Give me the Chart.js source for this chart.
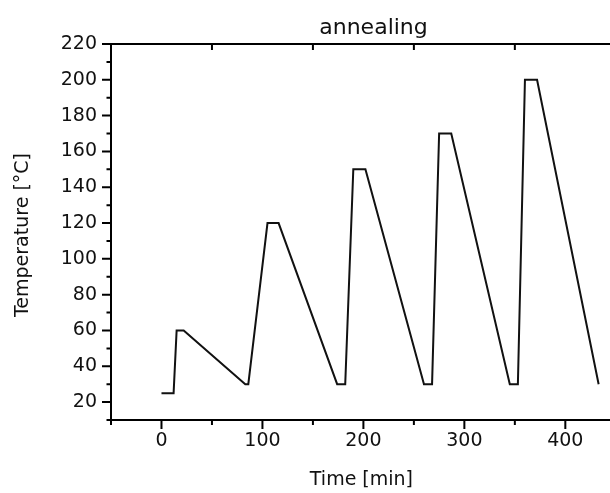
<!DOCTYPE html>
<html>
<head>
<meta charset="utf-8">
<script src="https://cdn.jsdelivr.net/npm/chart.js@4"></script>
<style>
  html, body { margin: 0; padding: 0; overflow: hidden; background: #fff; }
  canvas { display: block; }
</style>
</head>
<body>
<canvas id="myChart" width="636" height="493"></canvas>
<script>
// annealing profile
var time = [0, 12, 15, 22, 83, 86, 105, 116, 174, 182, 190, 202, 260, 268, 275, 287, 345, 353, 360, 372, 433];
var temp = [25, 25, 60, 60, 30, 30, 120, 120, 30, 30, 150, 150, 30, 30, 170, 170, 30, 30, 200, 200, 30];

var xMajor = [0, 100, 200, 300, 400];
var xMinor = [-50, 50, 150, 250, 350, 450];
var yMajor = [20, 40, 60, 80, 100, 120, 140, 160, 180, 200, 220];
var yMinor = [10, 30, 50, 70, 90, 110, 130, 150, 170, 190, 210];
var topTicks = [-50, 50, 150, 250, 350, 450];

var points = time.map(function (t, i) { return {x: t, y: temp[i]}; });

Chart.defaults.font.family = "'DejaVu Sans', sans-serif";
Chart.defaults.color = '#111';

// frame + tick marks (major/minor, in and out)
var frame = {
  id: 'frame',
  afterDraw: function (chart) {
    var c = chart.ctx, a = chart.chartArea;
    var sx = chart.scales.x, sy = chart.scales.y;
    c.save();
    c.strokeStyle = '#000';
    c.lineWidth = 2;
    c.beginPath();
    c.rect(a.left, a.top, a.right - a.left, a.bottom - a.top);
    c.stroke();
    c.beginPath();
    xMajor.forEach(function (v) { var p = sx.getPixelForValue(v); c.moveTo(p, a.bottom); c.lineTo(p, a.bottom + 9); });
    xMinor.forEach(function (v) { var p = sx.getPixelForValue(v); c.moveTo(p, a.bottom); c.lineTo(p, a.bottom + 5); });
    yMajor.forEach(function (v) { var p = sy.getPixelForValue(v); c.moveTo(a.left, p); c.lineTo(a.left - 9, p); });
    yMinor.forEach(function (v) { var p = sy.getPixelForValue(v); c.moveTo(a.left, p); c.lineTo(a.left - 4.5, p); });
    topTicks.forEach(function (v) { var p = sx.getPixelForValue(v); c.moveTo(p, a.top); c.lineTo(p, a.top + 6); });
    c.stroke();
    c.restore();
  }
};

var ctx = document.getElementById('myChart').getContext('2d');
var chart = new Chart(ctx, {
  type: 'line',
  data: {
    datasets: [{
      data: points,
      borderColor: '#111',
      borderWidth: 2,
      pointRadius: 0,
      tension: 0,
      fill: false
    }]
  },
  options: {
    responsive: false,
    animation: false,
    layout: { padding: 0 },
    plugins: {
      legend: { display: false },
      tooltip: { enabled: false },
      title: {
        display: true,
        fullSize: false,
        text: 'annealing',
        font: { size: 22, weight: 'normal' },
        color: '#111',
        padding: { top: 15, bottom: 2.6 }
      }
    },
    scales: {
      x: {
        type: 'linear',
        min: -50,
        max: 470,
        grid: { display: false, drawTicks: false },
        border: { display: false },
        afterBuildTicks: function (axis) { axis.ticks = xMajor.map(function (v) { return {value: v}; }); },
        afterFit: function (axis) { axis.height = 73; },
        ticks: { font: { size: 19 }, padding: 10, maxRotation: 0, autoSkip: false },
        // trailing spaces pull the centred label a little to the left, like the original
        title: { display: true, text: 'Time [min]    ', font: { size: 19 }, padding: { top: 0, bottom: 2 } }
      },
      y: {
        min: 10,
        max: 220,
        grid: { display: false, drawTicks: false },
        border: { display: false },
        afterBuildTicks: function (axis) { axis.ticks = yMajor.map(function (v) { return {value: v}; }); },
        afterFit: function (axis) { axis.width = 111; },
        ticks: { font: { size: 19 }, padding: 14, autoSkip: false },
        title: { display: true, text: 'Temperature [°C] ', font: { size: 19 }, padding: { top: 12, bottom: 0 } }
      }
    }
  },
  plugins: [frame]
});
</script>
</body>
</html>
